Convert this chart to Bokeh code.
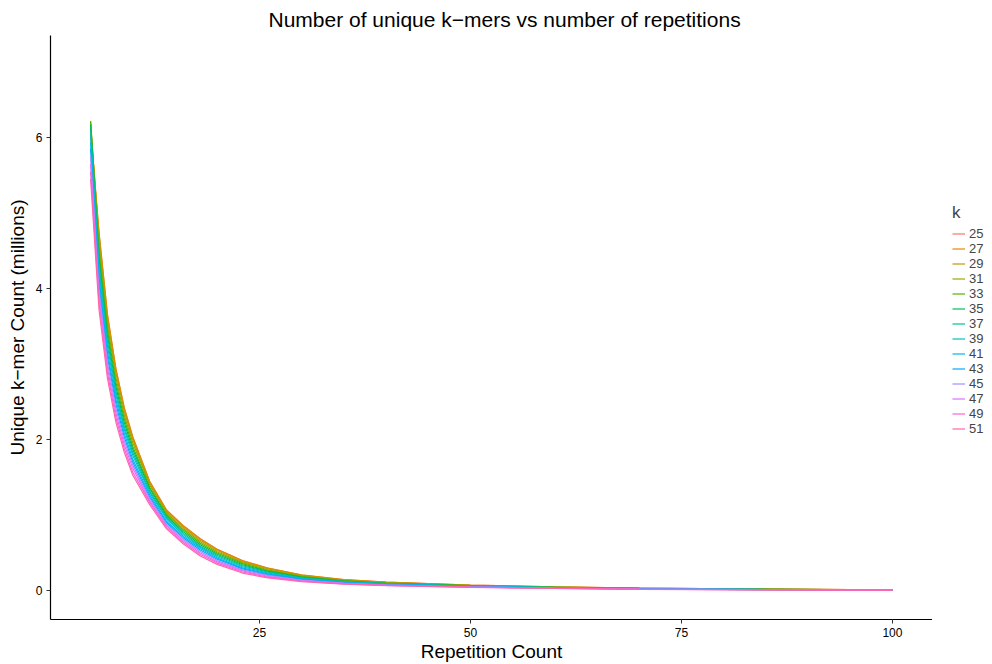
from bokeh.plotting import figure
from bokeh.layouts import row
from bokeh.models import Range1d, FixedTicker, Legend, LegendItem, ColumnDataSource
from bokeh.embed import file_html
from bokeh.resources import INLINE

# ---------------- data (values in millions) ----------------
repetition = [5, 6, 7, 8, 9, 10, 12, 14, 16, 18, 20, 23, 26, 30, 35, 40, 50, 60, 70, 85, 100]

k_labels = ["25", "27", "29", "31", "33", "35", "37", "39", "41", "43", "45", "47", "49", "51"]

count_k25 = [6.05, 4.73, 3.645, 2.93, 2.41, 2.03, 1.445, 1.066, 0.857, 0.687, 0.548, 0.398, 0.299, 0.209, 0.147, 0.115, 0.076, 0.053, 0.037, 0.022, 0.014]
count_k27 = [6.12, 4.75, 3.66, 2.94, 2.42, 2.04, 1.45, 1.07, 0.86, 0.69, 0.55, 0.40, 0.30, 0.21, 0.148, 0.115, 0.075, 0.052, 0.036, 0.022, 0.014]
count_k29 = [6.18, 4.66, 3.59, 2.88, 2.37, 2.00, 1.42, 1.05, 0.84, 0.67, 0.533, 0.386, 0.289, 0.2025, 0.143, 0.111, 0.0725, 0.050, 0.035, 0.021, 0.0135]
count_k31 = [6.22, 4.58, 3.52, 2.82, 2.32, 1.96, 1.40, 1.03, 0.82, 0.65, 0.517, 0.373, 0.278, 0.195, 0.138, 0.107, 0.070, 0.048, 0.033, 0.020, 0.013]
count_k33 = [6.21, 4.49, 3.45, 2.76, 2.27, 1.91, 1.37, 1.01, 0.80, 0.63, 0.50, 0.359, 0.268, 0.1875, 0.133, 0.103, 0.0675, 0.047, 0.032, 0.0195, 0.0125]
count_k35 = [6.17, 4.41, 3.38, 2.70, 2.22, 1.87, 1.35, 0.99, 0.78, 0.61, 0.483, 0.345, 0.257, 0.180, 0.128, 0.099, 0.065, 0.045, 0.031, 0.019, 0.012]
count_k37 = [6.10, 4.32, 3.31, 2.64, 2.17, 1.83, 1.32, 0.97, 0.76, 0.59, 0.467, 0.331, 0.246, 0.1725, 0.123, 0.095, 0.0625, 0.043, 0.029, 0.018, 0.0115]
count_k39 = [6.02, 4.24, 3.24, 2.59, 2.13, 1.79, 1.30, 0.95, 0.74, 0.575, 0.45, 0.318, 0.235, 0.165, 0.118, 0.092, 0.060, 0.041, 0.028, 0.017, 0.011]
count_k41 = [5.93, 4.15, 3.16, 2.53, 2.08, 1.74, 1.27, 0.92, 0.72, 0.56, 0.433, 0.304, 0.224, 0.1575, 0.112, 0.088, 0.0575, 0.039, 0.027, 0.016, 0.0105]
count_k43 = [5.85, 4.06, 3.09, 2.47, 2.03, 1.70, 1.24, 0.90, 0.70, 0.54, 0.417, 0.290, 0.213, 0.150, 0.107, 0.084, 0.055, 0.037, 0.025, 0.0155, 0.010]
count_k45 = [5.75, 3.98, 3.02, 2.41, 1.98, 1.66, 1.22, 0.88, 0.68, 0.52, 0.40, 0.276, 0.203, 0.1425, 0.102, 0.080, 0.0525, 0.036, 0.024, 0.015, 0.0095]
count_k47 = [5.65, 3.89, 2.95, 2.35, 1.93, 1.62, 1.19, 0.86, 0.66, 0.50, 0.383, 0.263, 0.192, 0.135, 0.097, 0.076, 0.050, 0.034, 0.023, 0.014, 0.009]
count_k49 = [5.55, 3.81, 2.88, 2.29, 1.88, 1.57, 1.17, 0.84, 0.64, 0.48, 0.367, 0.249, 0.181, 0.1275, 0.092, 0.072, 0.0475, 0.032, 0.021, 0.013, 0.0085]
count_k51 = [5.45, 3.72, 2.81, 2.23, 1.83, 1.53, 1.14, 0.82, 0.62, 0.46, 0.35, 0.235, 0.170, 0.120, 0.087, 0.068, 0.045, 0.030, 0.020, 0.012, 0.008]

all_counts = [count_k25, count_k27, count_k29, count_k31, count_k33, count_k35, count_k37,
              count_k39, count_k41, count_k43, count_k45, count_k47, count_k49, count_k51]

palette = ["#F8766D", "#E38900", "#C49A00", "#99A800", "#53B400", "#00BC56", "#00C094",
           "#00BFC4", "#00B6EB", "#06A4FF", "#A58AFF", "#DF70F8", "#FB61D7", "#FF66A8"]

x_ticks = [25, 50, 75, 100]
y_ticks = [0, 2, 4, 6]

FONT = "Liberation Sans"

p = figure(width=932, height=664, output_backend="svg", toolbar_location=None,
           x_range=Range1d(0.25, 104.75), y_range=Range1d(-0.38, 7.35),
           title="Number of unique k\u2212mers vs number of repetitions",
           x_axis_label="Repetition Count", y_axis_label="Unique k\u2212mer Count (millions)",
           min_border_left=50, min_border_right=0, min_border_top=35, min_border_bottom=44)

p.background_fill_color = "white"
p.border_fill_color = "white"
p.outline_line_color = None
p.grid.visible = False

p.title.align = "left"
p.title.offset = 218
p.title.text_font = FONT
p.title.text_font_size = "21px"
p.title.text_font_style = "normal"
p.title.text_color = "black"

for ax in (p.xaxis[0], p.yaxis[0]):
    ax.axis_line_color = "black"
    ax.axis_line_width = 1.2
    ax.major_tick_line_color = "#333333"
    ax.major_tick_out = 4
    ax.major_tick_in = 0
    ax.minor_tick_line_color = None
    ax.major_label_text_font = FONT
    ax.major_label_text_font_size = "12px"
    ax.major_label_text_color = "black"
    ax.axis_label_text_font = FONT
    ax.axis_label_text_font_size = "19px"
    ax.axis_label_text_font_style = "normal"
    ax.axis_label_text_color = "black"

p.xaxis[0].ticker = FixedTicker(ticks=x_ticks)
p.yaxis[0].ticker = FixedTicker(ticks=y_ticks)
p.yaxis[0].major_label_orientation = 0
p.xaxis[0].major_label_standoff = 4
p.yaxis[0].major_label_standoff = 4
p.xaxis[0].axis_label_standoff = 1
p.yaxis[0].axis_label_standoff = 5

for lab, ys, col in zip(k_labels, all_counts, palette):
    src = ColumnDataSource(dict(x=repetition, y=ys))
    p.line("x", "y", source=src, line_color=col, line_width=1.2)

# ---------------- legend panel (separate narrow figure) ----------------
lg = figure(width=60, height=664, output_backend="svg", toolbar_location=None,
            x_range=Range1d(0, 1), y_range=Range1d(0, 1),
            min_border_left=0, min_border_right=0, min_border_top=0, min_border_bottom=0)
lg.axis.visible = False
lg.grid.visible = False
lg.outline_line_color = None
lg.background_fill_color = "white"
lg.border_fill_color = "white"

items = []
for lab, col in zip(k_labels, palette):
    # key-only renderer: its points lie outside the visible range
    r = lg.line(x=[-5, -4], y=[-5, -4], line_color=col, line_width=1.2)
    items.append(LegendItem(label=lab, renderers=[r]))

legend = Legend(items=items, title="k", location=(20, 183),
                label_text_font=FONT, label_text_font_size="13px", label_text_line_height=1.0,
                title_text_font=FONT, title_text_font_size="17px", title_text_font_style="normal",
                glyph_width=13, glyph_height=15, label_height=15, label_standoff=4,
                spacing=0, padding=2, margin=0, border_line_color=None,
                background_fill_alpha=0, title_standoff=3)
lg.add_layout(legend, "center")

layout = row(p, lg)
open("out.html", "w").write(file_html(layout, INLINE))
